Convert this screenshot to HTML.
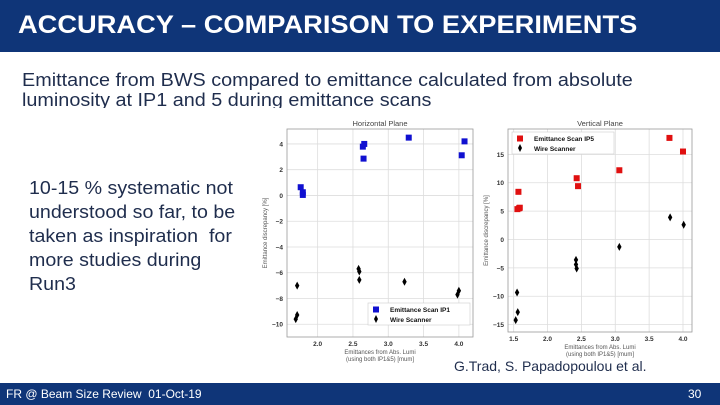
<!DOCTYPE html>
<html><head><meta charset="utf-8"><style>
body{margin:0;width:720px;height:405px;overflow:hidden;background:#fff;font-family:"Liberation Sans",sans-serif;position:relative}
.hdr{position:absolute;left:0;top:0;width:720px;height:52px;background:#0f3578}
.hdr div{position:absolute;left:18px;top:11px;color:#fff;font-weight:bold;font-size:25px;transform:scaleX(1.09);transform-origin:left top;white-space:nowrap}
.bodyc{position:absolute;left:0;top:66px;width:720px;height:42px;overflow:hidden}
.body{position:absolute;left:22px;top:4px;color:#1f2d4d;font-size:18px;line-height:20px;transform:scaleX(1.1);transform-origin:left top;white-space:nowrap}
.note{position:absolute;left:29px;top:176px;color:#1f2d4d;font-size:18px;line-height:24px;transform:scaleX(1.09);transform-origin:left top;white-space:nowrap}
.ftr{position:absolute;left:0;top:383px;width:720px;height:22px;background:#0f3578;color:#fff;font-size:12px}
.cred{position:absolute;left:454px;top:358px;color:#1f2d4d;font-size:14px;transform:scaleX(1.0);transform-origin:left top;white-space:nowrap}
</style></head><body>
<div class="hdr"><div>ACCURACY – COMPARISON TO EXPERIMENTS</div></div>
<div class="bodyc"><div class="body">Emittance from BWS compared to emittance calculated from absolute<br>luminosity at IP1 and 5 during emittance scans</div></div>
<svg id="ch" style="position:absolute;left:0;top:0" width="720" height="405"></svg>
<div class="note">10-15 % systematic not<br>understood so far, to be<br>taken as inspiration&nbsp; for<br>more studies during<br>Run3</div>
<div class="cred">G.Trad, S. Papadopoulou et al.</div>
<div class="ftr"><span style="position:absolute;left:6px;top:4px">FR @ Beam Size Review&nbsp; 01-Oct-19</span><span style="position:absolute;left:688px;top:4px">30</span></div>
<script>
const hScanX=[1.76,1.79,1.79,2.64,2.66,2.65,3.29,4.08,4.04];
const hScanY=[0.64,0.25,0.04,3.79,4.0,2.86,4.49,4.2,3.12];
const hWireX=[1.71,1.71,1.69,2.58,2.59,2.59,3.23,4.0,3.98];
const hWireY=[-7.0,-9.28,-9.6,-5.7,-5.9,-6.55,-6.7,-7.4,-7.7];
const vScanX=[1.555,1.58,1.59,1.57,2.43,2.45,3.06,3.80,4.0];
const vScanY=[5.35,5.5,5.6,8.4,10.8,9.4,12.2,17.9,15.5];
const vWireX=[1.55,1.56,1.53,2.42,2.42,2.43,3.06,3.81,4.01];
const vWireY=[-9.35,-12.8,-14.2,-3.6,-4.4,-5.1,-1.3,3.9,2.6];
const hXTicks=[2.0,2.5,3.0,3.5,4.0];
const hYTicks=[4,2,0,-2,-4,-6,-8,-10];
const vXTicks=[1.5,2.0,2.5,3.0,3.5,4.0];
const vYTicks=[15,10,5,0,-5,-10,-15];
const NS='http://www.w3.org/2000/svg';
const svg=document.getElementById('ch');
function el(t,a,p){const e=document.createElementNS(NS,t);for(const k in a)e.setAttribute(k,a[k]);(p||svg).appendChild(e);return e;}
function txt(s,a,p){const e=el('text',a,p);e.textContent=s;return e;}
function plot(cfg){
  const g=el('g',{});
  
  
  const {L,R,T,B,x0,x1,y0,y1}=cfg;
  const sx=v=>L+(v-x0)/(x1-x0)*(R-L), sy=v=>B-(v-y0)/(y1-y0)*(B-T);
  cfg.xt.forEach(v=>{el('line',{x1:sx(v),x2:sx(v),y1:T,y2:B,stroke:'#ddd','stroke-width':0.8},g);
    const t=txt(v.toFixed(1),{x:sx(v),y:B+9,'font-size':6.5,'text-anchor':'middle',fill:'#333','font-weight':'bold'},g);
    });
  cfg.yt.forEach(v=>{el('line',{x1:L,x2:R,y1:sy(v),y2:sy(v),stroke:'#ddd','stroke-width':0.8},g);
    const t=txt(String(v).replace('-','−'),{x:L-4,y:sy(v)+2.5,'font-size':6.5,'text-anchor':'end',fill:'#333','font-weight':'bold'},g);
    });
  el('rect',{x:L,y:T,width:R-L,height:B-T,fill:'none',stroke:'#999','stroke-width':0.8},g);
  const tt=txt(cfg.title,{x:(L+R)/2,y:T-3,'font-size':7.5,'text-anchor':'middle',fill:'#444'},g);
  
  const xl=txt('Emittances from Abs. Lumi',{x:(L+R)/2,y:B+17,'font-size':6,'text-anchor':'middle',fill:'#555'},g);
  
  txt('(using both IP1&5) [mum]',{x:(L+R)/2,y:B+24,'font-size':6,'text-anchor':'middle',fill:'#555'},g);
  const yl=txt('Emittance discrepancy [%]',{x:0,y:0,'font-size':6,'text-anchor':'middle',fill:'#555',transform:`translate(${L-20},${(T+B)/2}) rotate(-90)`},g);
  
  cfg.sX.forEach((v,i)=>{const r=el('rect',{x:sx(v)-3,y:sy(cfg.sY[i])-3,width:6,height:6,fill:cfg.col},g);
    });
  cfg.wX.forEach((v,i)=>{const cx=sx(v),cy=sy(cfg.wY[i]);
    const p=el('path',{d:`M${cx},${cy-4}L${cx+2.2},${cy}L${cx},${cy+4}L${cx-2.2},${cy}Z`,fill:'#000'},g);
    });
  const lg=el('g',{},g);
  
  const [lx,ly]=cfg.leg;
  el('rect',{x:lx,y:ly,width:102,height:22,fill:'#fff',stroke:'#ccc','stroke-width':0.6},lg);
  el('rect',{x:lx+5,y:ly+3.5,width:6,height:6,fill:cfg.col},lg);
  txt(cfg.lab,{x:lx+22,y:ly+9,'font-size':6.5,'font-weight':'bold',fill:'#111'},lg);
  el('path',{d:`M${lx+8},${ly+12}L${lx+10},${ly+16}L${lx+8},${ly+20}L${lx+6},${ly+16}Z`,fill:'#000'},lg);
  txt('Wire Scanner',{x:lx+22,y:ly+19,'font-size':6.5,'font-weight':'bold',fill:'#111'},lg);
}
plot({name:'horizontal-plane-chart',title:'Horizontal Plane',L:287,R:473,T:129,B:337,x0:1.566,x1:4.2,y0:-10.99,y1:5.16,xt:hXTicks,yt:hYTicks,sX:hScanX,sY:hScanY,wX:hWireX,wY:hWireY,col:'#1010d0',lab:'Emittance Scan IP1',leg:[368,303]});
plot({name:'vertical-plane-chart',title:'Vertical Plane',L:508,R:692,T:129,B:332,x0:1.416,x1:4.133,y0:-16.3,y1:19.47,xt:vXTicks,yt:vYTicks,sX:vScanX,sY:vScanY,wX:vWireX,wY:vWireY,col:'#e01010',lab:'Emittance Scan IP5',leg:[512,132]});
</script>
</body></html>
